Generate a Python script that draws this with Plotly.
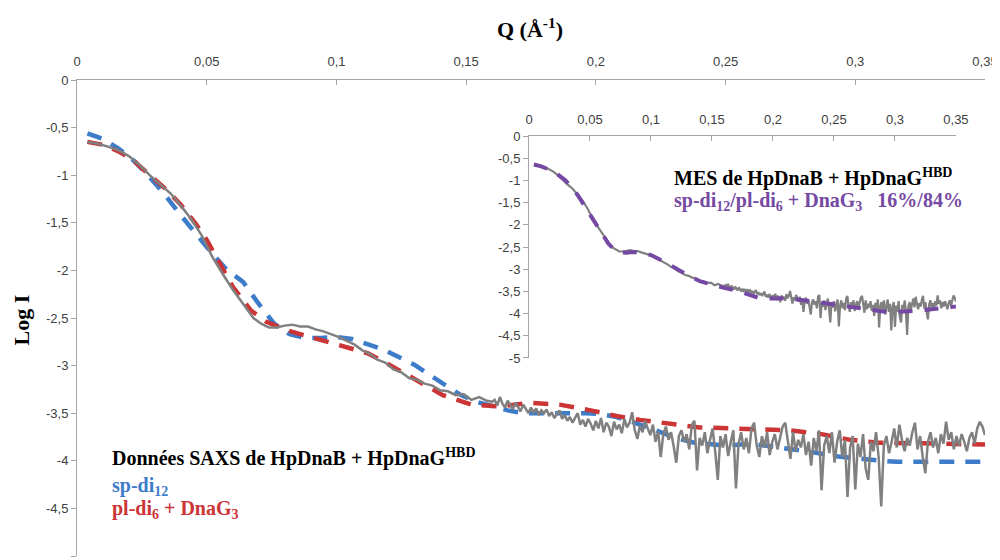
import plotly.graph_objects as go

# -- Data ------------------------------------------------------------------
# Experimental SAXS curve (grey)
q_exp = [
    0.004, 0.008, 0.012, 0.016, 0.020, 0.024, 0.028, 0.032, 0.036, 0.040,
    0.044, 0.048, 0.052, 0.056, 0.060, 0.064, 0.068, 0.071, 0.074, 0.077,
    0.080, 0.083, 0.086, 0.089, 0.092, 0.095, 0.098, 0.101, 0.104, 0.107,
    0.110, 0.113, 0.116, 0.119, 0.122, 0.125, 0.128, 0.131, 0.134, 0.137,
    0.140, 0.143, 0.146, 0.149, 0.152, 0.155, 0.158,
    0.160, 0.161, 0.162, 0.163, 0.164, 0.165, 0.166, 0.167, 0.168, 0.169,
    0.170, 0.171, 0.172, 0.173, 0.174, 0.175, 0.176, 0.177, 0.178, 0.179,
    0.180, 0.181, 0.182, 0.183, 0.184, 0.185, 0.186, 0.187, 0.188, 0.189,
    0.190, 0.191, 0.192, 0.193, 0.194, 0.195, 0.196, 0.197, 0.198, 0.199,
    0.200, 0.201, 0.202, 0.203, 0.204, 0.205, 0.206, 0.207, 0.208, 0.209,
    0.210, 0.211, 0.212, 0.213, 0.214, 0.215, 0.216, 0.217, 0.218, 0.219,
    0.220, 0.221, 0.222, 0.223, 0.224, 0.225, 0.226, 0.227, 0.228, 0.229,
    0.230, 0.231, 0.232, 0.233, 0.234, 0.235, 0.236, 0.237, 0.238, 0.239,
    0.240, 0.241, 0.242, 0.243, 0.244, 0.245, 0.246, 0.247, 0.248, 0.249,
    0.250, 0.251, 0.252, 0.253, 0.254, 0.255, 0.256, 0.257, 0.258, 0.259,
    0.260, 0.261, 0.262, 0.263, 0.264, 0.265, 0.266, 0.267, 0.268, 0.269,
    0.270, 0.271, 0.272, 0.273, 0.274, 0.275, 0.276, 0.277, 0.278, 0.279,
    0.280, 0.281, 0.282, 0.283, 0.284, 0.285, 0.286, 0.287, 0.288, 0.289,
    0.290, 0.291, 0.292, 0.293, 0.294, 0.295, 0.296, 0.297, 0.298, 0.299,
    0.300, 0.301, 0.302, 0.303, 0.304, 0.305, 0.306, 0.307, 0.308, 0.309,
    0.310, 0.311, 0.312, 0.313, 0.314, 0.315, 0.316, 0.317, 0.318, 0.319,
    0.320, 0.321, 0.322, 0.323, 0.324, 0.325, 0.326, 0.327, 0.328, 0.329,
    0.330, 0.331, 0.332, 0.333, 0.334, 0.335, 0.336, 0.337, 0.338, 0.339,
    0.340, 0.341, 0.342, 0.343, 0.344, 0.345, 0.346, 0.347, 0.348, 0.349,
    0.350,
]
logi_exp = [
    -0.65, -0.67, -0.70, -0.74, -0.80, -0.89, -1.00, -1.10, -1.19, -1.32,
    -1.46, -1.63, -1.85, -2.03, -2.20, -2.35, -2.50, -2.56, -2.60, -2.60,
    -2.58, -2.57, -2.59, -2.59, -2.62, -2.64, -2.67, -2.70, -2.74, -2.78,
    -2.84, -2.88, -2.94, -2.97, -3.04, -3.07, -3.13, -3.15, -3.19, -3.21,
    -3.26, -3.27, -3.31, -3.30, -3.36, -3.33, -3.37,
    -3.38, -3.36, -3.42, -3.33, -3.40, -3.44, -3.37, -3.41, -3.46, -3.39,
    -3.43, -3.48, -3.41, -3.46, -3.50, -3.44, -3.49, -3.45, -3.52, -3.47,
    -3.50, -3.46, -3.53, -3.49, -3.55, -3.51, -3.47, -3.56, -3.52, -3.58,
    -3.54, -3.60, -3.55, -3.50, -3.62, -3.57, -3.64, -3.56, -3.61, -3.68,
    -3.58, -3.66, -3.55, -3.70, -3.60, -3.64, -3.74, -3.59, -3.67, -3.62,
    -3.71, -3.56, -3.65, -3.60, -3.49, -3.68, -3.77, -3.63, -3.70, -3.58,
    -3.66, -3.73, -3.62, -3.80, -3.69, -3.96, -3.72, -3.64, -3.78, -3.70,
    -3.85, -4.02, -3.74, -3.68, -3.80, -3.72, -3.88, -3.62, -3.58, -4.10,
    -3.76, -3.84, -3.70, -3.92, -3.78, -3.66, -3.90, -4.20, -3.74, -3.86,
    -3.72, -3.95, -3.80, -3.68, -4.29, -3.82, -3.70, -3.88, -3.76, -3.92,
    -3.66, -3.60, -3.84, -3.96, -3.74, -3.86, -3.70, -3.94, -3.80, -3.72,
    -3.88, -3.76, -3.64, -3.60, -3.82, -3.98, -3.70, -3.90, -3.78, -3.86,
    -3.72, -3.94, -3.80, -4.05, -3.76, -3.90, -3.68, -4.31, -3.84, -3.74,
    -3.92, -3.70, -4.02, -3.80, -3.68, -3.96, -3.78, -4.38, -3.86, -3.74,
    -4.30, -3.82, -3.96, -3.72, -4.08, -4.20, -3.80, -3.90, -3.70, -3.96,
    -4.48, -3.84, -3.74, -3.92, -3.80, -3.66, -3.86, -3.62, -3.78, -3.90,
    -3.76, -3.84, -3.70, -3.60, -3.88, -3.74, -3.96, -4.13, -3.80, -3.70,
    -3.86, -3.76, -3.92, -3.72, -3.82, -3.59, -3.78, -3.70, -3.88, -3.74,
    -3.84, -3.72, -3.80, -3.90, -3.76, -3.70, -3.82, -3.66, -3.59, -3.64,
    -3.73,
]

# sp-di12 model (blue dashed)
q_sp = [0.004, 0.010, 0.016, 0.022, 0.028, 0.034, 0.040, 0.046, 0.052, 0.058,
        0.064, 0.070, 0.076, 0.082, 0.088, 0.094, 0.100, 0.106, 0.112, 0.118,
        0.124, 0.130, 0.136, 0.142, 0.148, 0.154, 0.160, 0.166, 0.172, 0.178,
        0.184, 0.190, 0.196, 0.202, 0.208, 0.214, 0.220, 0.226, 0.232, 0.238,
        0.244, 0.250, 0.256, 0.262, 0.268, 0.274, 0.280, 0.286, 0.292, 0.298,
        0.304, 0.310, 0.316, 0.325, 0.335, 0.345, 0.350]
logi_sp = [-0.56, -0.62, -0.72, -0.85, -1.02, -1.21, -1.42, -1.62, -1.82, -2.00,
           -2.12, -2.35, -2.56, -2.67, -2.71, -2.71, -2.70, -2.72, -2.77, -2.83,
           -2.91, -2.99, -3.10, -3.21, -3.31, -3.38, -3.43, -3.47, -3.50, -3.50,
           -3.49, -3.49, -3.50, -3.51, -3.54, -3.59, -3.65, -3.71, -3.77, -3.81,
           -3.83, -3.84, -3.83, -3.83, -3.85, -3.87, -3.89, -3.92, -3.95, -3.97,
           -3.99, -4.00, -4.01, -4.01, -4.01, -4.01, -4.01]

# pl-di6 + DnaG3 model (red dashed)
q_pl = [0.004, 0.010, 0.016, 0.022, 0.028, 0.034, 0.040, 0.046, 0.050, 0.055,
        0.060, 0.067, 0.073, 0.081, 0.090, 0.100, 0.112, 0.119, 0.131, 0.141,
        0.152, 0.163, 0.175, 0.186, 0.198, 0.208, 0.217, 0.228, 0.240, 0.253,
        0.265, 0.275, 0.287, 0.298, 0.309, 0.321, 0.332, 0.350]
logi_pl = [-0.65, -0.68, -0.75, -0.85, -1.00, -1.14, -1.31, -1.52, -1.68, -1.92,
           -2.17, -2.42, -2.54, -2.63, -2.70, -2.78, -2.87, -2.97, -3.15, -3.31,
           -3.41, -3.43, -3.39, -3.41, -3.47, -3.53, -3.57, -3.61, -3.65, -3.66,
           -3.67, -3.68, -3.72, -3.78, -3.81, -3.81, -3.82, -3.83]

# MES fit sp-di12/pl-di6 + DnaG3 16%/84% (purple dashed, inset)
q_mes = [0.004, 0.010, 0.020, 0.030, 0.040, 0.050, 0.055, 0.060, 0.065, 0.070,
         0.075, 0.080, 0.085, 0.090, 0.100, 0.110, 0.120, 0.130, 0.140, 0.150,
         0.160, 0.170, 0.180, 0.190, 0.200, 0.210, 0.220, 0.230, 0.240, 0.250,
         0.260, 0.270, 0.280, 0.290, 0.300, 0.310, 0.320, 0.330, 0.340, 0.350]
logi_mes = [-0.64, -0.68, -0.79, -1.00, -1.33, -1.76, -2.00, -2.22, -2.42, -2.56,
            -2.62, -2.63, -2.61, -2.62, -2.68, -2.82, -2.98, -3.13, -3.27, -3.35,
            -3.42, -3.48, -3.56, -3.66, -3.66, -3.65, -3.68, -3.72, -3.76, -3.80,
            -3.84, -3.88, -3.92, -3.95, -3.96, -3.95, -3.93, -3.90, -3.87, -3.84]

x_ticks = [0, 0.05, 0.1, 0.15, 0.2, 0.25, 0.3, 0.35]
x_tick_text = ["0", "0,05", "0,1", "0,15", "0,2", "0,25", "0,3", "0,35"]
y_ticks = [0, -0.5, -1, -1.5, -2, -2.5, -3, -3.5, -4, -4.5, -5]
y_tick_text = ["0", "-0,5", "-1", "-1,5", "-2", "-2,5", "-3", "-3,5", "-4", "-4,5", "-5"]

# -- Styling ---------------------------------------------------------------
GREY = "#808080"
BLUE = "#3d7cc9"
RED = "#cc3535"
PURPLE = "#7549a3"
AXIS = "#a6a6a6"
TICK_FONT = dict(family="Liberation Sans, Arial, sans-serif", size=13, color="#404040")
SERIF = "Liberation Serif, Times New Roman, serif"

fig = go.Figure()

# main panel
fig.add_trace(go.Scatter(x=q_sp, y=logi_sp, mode="lines",
                         line=dict(color=BLUE, width=4.5, dash="15px,11px")))
fig.add_trace(go.Scatter(x=q_pl, y=logi_pl, mode="lines",
                         line=dict(color=RED, width=4.5, dash="15px,11px")))
fig.add_trace(go.Scatter(x=q_exp, y=logi_exp, mode="lines",
                         line=dict(color=GREY, width=2.5)))

# inset
fig.add_trace(go.Scatter(x=q_exp, y=logi_exp, mode="lines", xaxis="x2", yaxis="y2",
                         line=dict(color=GREY, width=2.2)))
fig.add_trace(go.Scatter(x=q_mes, y=logi_mes, mode="lines", xaxis="x2", yaxis="y2",
                         line=dict(color=PURPLE, width=4, dash="14px,12px")))

axis_common = dict(showgrid=False, zeroline=False, showline=True, linecolor=AXIS,
                   linewidth=1, tickcolor=AXIS, ticklen=5, tickfont=TICK_FONT,
                   automargin=False)

# the page body adds an 8px offset, so the figure is 8px smaller to fit the window
fig.update_layout(
    width=992, height=552,
    margin=dict(l=69, r=15, t=72, b=4),
    paper_bgcolor="white", plot_bgcolor="rgba(0,0,0,0)",
    showlegend=False,
    xaxis=dict(domain=[0, 1], range=[0, 0.35], side="top", ticks="inside",
               tickvals=x_ticks, ticktext=x_tick_text, ticklabelstandoff=8,
               **axis_common),
    yaxis=dict(domain=[0, 1], range=[-5, 0], ticks="outside",
               tickvals=y_ticks, ticktext=y_tick_text, **axis_common),
    xaxis2=dict(domain=[0.4978, 0.968], range=[0, 0.35], side="top", anchor="y2",
                ticks="inside", tickvals=x_ticks, ticktext=x_tick_text,
                ticklabelstandoff=6, **axis_common),
    yaxis2=dict(domain=[0.416, 0.882], range=[-5, 0], anchor="x2", ticks="outside",
                tickvals=y_ticks, ticktext=y_tick_text, **axis_common),
)


def label(text, x, y, size, color, xanchor="left", angle=0):
    fig.add_annotation(text=text, xref="paper", yref="paper", x=x, y=y,
                       xanchor=xanchor, yanchor="middle", showarrow=False,
                       textangle=angle,
                       font=dict(family=SERIF, size=size, color=color))


label("<b>Q (Å<sup>-1</sup>)</b>", 0.499, 1.109, 22, "black", xanchor="center")
label("<b>Log I</b>", -0.061, 0.496, 22, "black", xanchor="center", angle=-90)

# main-panel labels
label("<b>Données SAXS de HpDnaB + HpDnaG<sup>HBD</sup></b>", 0.0364, 0.206, 20, "black")
label("<b>sp-di<sub>12</sub></b>", 0.0364, 0.145, 20, BLUE)
label("<b>pl-di<sub>6</sub> + DnaG<sub>3</sub></b>", 0.0364, 0.097, 20, RED)

# inset labels
label("<b>MES de HpDnaB + HpDnaG<sup>HBD</sup></b>", 0.6553, 0.796, 20, "black")
label("<b>sp-di<sub>12</sub>/pl-di<sub>6</sub> + DnaG<sub>3</sub>   16%/84%</b>",
      0.6553, 0.745, 20, PURPLE)

fig.write_html("out.html")
